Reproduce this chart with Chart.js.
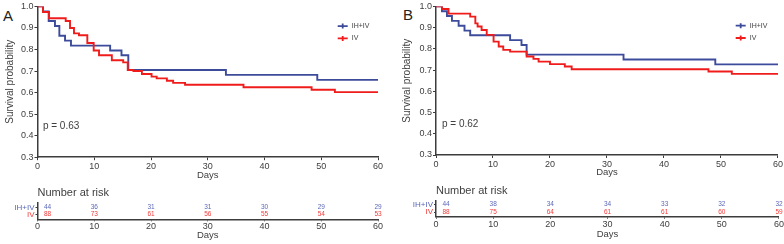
<!DOCTYPE html>
<html><head><meta charset="utf-8">
<script src="https://cdn.jsdelivr.net/npm/chart.js@4.4.1/dist/chart.umd.min.js"></script>
<style>
html,body{margin:0;padding:0;background:#fff;}
body{width:784px;height:244px;overflow:hidden;position:relative;font-family:'Liberation Sans',Arial,sans-serif;}
canvas{position:absolute;}
.lab{position:absolute;font-size:15px;color:#222;line-height:1;}
</style></head><body>
<div class="lab" style="left:3px;top:8px">A</div>
<div class="lab" style="left:403px;top:7px">B</div>
<canvas id="kmA" width="392" height="181" style="left:0;top:0"></canvas>
<canvas id="kmB" width="392" height="178" style="left:392px;top:0"></canvas>
<canvas id="rkA" width="392" height="61" style="left:0;top:183px"></canvas>
<canvas id="rkB" width="392" height="63" style="left:392px;top:181px"></canvas>
<script>
// ---- data ----
const seriesNames = ['IH+IV', 'IV'];
const xTicks = [0, 10, 20, 30, 40, 50, 60];
const yTicks = [0.3, 0.4, 0.5, 0.6, 0.7, 0.8, 0.9, 1.0];

const aIhivTime = [0, 0.97, 1.97, 3.08, 3.85, 4.85, 5.9, 12.8, 14.8, 16.0, 33.2, 49.3, 60];
const aIhivSurv = [1, 0.977, 0.932, 0.909, 0.864, 0.841, 0.818, 0.795, 0.773, 0.705, 0.682, 0.659, 0.659];
const aIvTime = [0, 0.97, 2.03, 4.97, 5.73, 6.43, 7.31, 8.78, 9.9, 10.84, 13.1, 15.1, 15.9, 16.9, 18.4, 20.1, 21.0, 22.8, 23.9, 26.0, 36.3, 48.3, 52.4, 60];
const aIvSurv = [1, 0.974, 0.945, 0.932, 0.90, 0.875, 0.866, 0.83, 0.795, 0.773, 0.75, 0.74, 0.705, 0.70, 0.686, 0.674, 0.666, 0.655, 0.645, 0.636, 0.625, 0.613, 0.602, 0.602];

const bIhivTime = [0, 1.05, 1.92, 2.8, 3.97, 5.0, 6.0, 13.0, 15.0, 15.9, 32.9, 49.0, 60];
const bIhivSurv = [1, 0.977, 0.955, 0.932, 0.909, 0.886, 0.864, 0.841, 0.818, 0.773, 0.75, 0.727, 0.727];
const bIvTime = [0, 1.05, 2.2, 6.0, 6.9, 7.3, 8.0, 8.9, 10.1, 11.0, 11.8, 13.0, 15.9, 17.1, 18.0, 20.0, 22.6, 23.8, 47.8, 51.9, 60];
const bIvSurv = [1, 0.988, 0.966, 0.952, 0.92, 0.905, 0.889, 0.866, 0.834, 0.811, 0.795, 0.787, 0.764, 0.753, 0.74, 0.728, 0.717, 0.704, 0.693, 0.682, 0.682];

const riskTimes = [0, 10, 20, 30, 40, 50, 60];
const aRiskIhiv = [44, 36, 31, 31, 30, 29, 29];
const aRiskIv = [88, 73, 61, 56, 55, 54, 53];
const bRiskIhiv = [44, 38, 34, 34, 33, 32, 32];
const bRiskIv = [88, 75, 64, 61, 61, 60, 59];

const pTextA = 'p = 0.63';
const pTextB = 'p = 0.62';

// ---- style ----
const BLUE = '#3d4b9b';
const RED = '#f01c1c';
const BLUE_L = '#5b68b8';
const RED_L = '#f43a3a';
const AX = '#3c3c3c';
const TXT = '#404040';
const FONT = "'Liberation Sans', Arial, sans-serif";

function pts(t, s) { return t.map((x, i) => ({ x: x, y: s[i] })); }

function kmChart(id, c) {
  const extras = {
    id: 'kmExtras' + id,
    afterDatasetsDraw(chart) {
      const ctx = chart.ctx, ca = chart.chartArea;
      ctx.save();
      chart.data.datasets.forEach((ds, i) => {
        const y = ca.top + c.legTop + i * 12.3;
        const x0 = ca.right - c.legRight;
        ctx.strokeStyle = ds.borderColor; ctx.lineWidth = 1.8;
        ctx.beginPath();
        ctx.moveTo(x0, y); ctx.lineTo(x0 + 10, y);
        ctx.moveTo(x0 + 5, y - 2.5); ctx.lineTo(x0 + 5, y + 2.5);
        ctx.stroke();
        ctx.fillStyle = TXT; ctx.font = '7px ' + FONT; ctx.textBaseline = 'middle'; ctx.textAlign = 'left';
        ctx.fillText(ds.label, x0 + 14, y);
      });
      const xs = chart.scales.x, ys = chart.scales.y;
      ctx.font = '10px ' + FONT; ctx.fillStyle = TXT; ctx.textBaseline = 'middle'; ctx.textAlign = 'left';
      ctx.fillText(c.pText, xs.getPixelForValue(c.pPos[0]), ys.getPixelForValue(c.pPos[1]));
      ctx.restore();
    }
  };
  return new Chart(document.getElementById(id), {
    type: 'line',
    data: {
      datasets: [
        { label: seriesNames[0], data: pts(c.t1, c.s1), borderColor: BLUE, borderWidth: 1.9, pointRadius: 0, stepped: 'before', fill: false, order: 1 },
        { label: seriesNames[1], data: pts(c.t2, c.s2), borderColor: RED, borderWidth: 1.9, pointRadius: 0, stepped: 'before', fill: false, order: 0 }
      ]
    },
    options: {
      responsive: false, animation: false, devicePixelRatio: 1,
      layout: { padding: { top: c.top, right: c.right, left: 0, bottom: 0 } },
      plugins: { legend: { display: false }, tooltip: { enabled: false }, title: { display: false } },
      scales: {
        x: {
          type: 'linear', min: 0, max: 60,
          afterBuildTicks: s => { s.ticks = xTicks.map(v => ({ value: v })); },
          afterFit: s => { s.height = c.xh; },
          ticks: { font: { size: 9, family: FONT }, color: TXT, padding: 1, maxRotation: 0 },
          grid: { display: true, drawOnChartArea: false, drawTicks: true, tickLength: 3, color: AX, lineWidth: 1 },
          border: { display: true, color: AX, width: 1.5 },
          title: { display: true, text: 'Days', font: { size: 9.5, family: FONT }, color: TXT, padding: { top: 0, bottom: 0 } }
        },
        y: {
          type: 'linear', min: 0.3, max: 1.0,
          afterBuildTicks: s => { s.ticks = yTicks.map(v => ({ value: v })); },
          afterFit: s => { s.width = c.yw; },
          ticks: { font: { size: 9, family: FONT }, color: TXT, padding: 1, callback: v => Number(v).toFixed(1) },
          grid: { display: true, drawOnChartArea: false, drawTicks: true, tickLength: 3, color: AX, lineWidth: 1 },
          border: { display: true, color: AX, width: 1.5 },
          title: { display: true, text: 'Survival probability', font: { size: 10, family: FONT }, color: TXT, padding: { top: c.ytPad, bottom: 0 } }
        }
      }
    },
    plugins: [extras]
  });
}

function riskChart(id, c) {
  const labels = {
    id: 'riskLabels' + id,
    afterDatasetsDraw(chart) {
      const ctx = chart.ctx;
      ctx.save();
      ctx.font = '6.5px ' + FONT; ctx.textBaseline = 'middle';
      chart.data.datasets.forEach((ds, di) => {
        const meta = chart.getDatasetMeta(di);
        ctx.fillStyle = ds.textColor;
        meta.data.forEach((el, i) => {
          const v = ds.data[i];
          if (v.x === 0) { ctx.textAlign = 'left'; ctx.fillText(String(v.n), el.x + 6.5, el.y); }
          else { ctx.textAlign = 'center'; ctx.fillText(String(v.n), el.x, el.y); }
        });
      });
      ctx.restore();
    }
  };
  return new Chart(document.getElementById(id), {
    type: 'scatter',
    data: {
      datasets: [
        { label: seriesNames[0], data: riskTimes.map((t, i) => ({ x: t, y: 2, n: c.r1[i] })), pointRadius: 0, textColor: BLUE_L },
        { label: seriesNames[1], data: riskTimes.map((t, i) => ({ x: t, y: 1, n: c.r2[i] })), pointRadius: 0, textColor: RED_L }
      ]
    },
    options: {
      responsive: false, animation: false, devicePixelRatio: 1,
      layout: { padding: { top: 0, right: c.right, left: 0, bottom: 0 } },
      plugins: {
        legend: { display: false }, tooltip: { enabled: false },
        title: { display: true, text: 'Number at risk', align: 'start', fullSize: false, color: TXT,
          font: { size: 11, family: FONT, weight: 'normal' }, padding: { top: c.tp, bottom: c.tb } }
      },
      scales: {
        x: {
          type: 'linear', min: 0, max: 60,
          afterBuildTicks: s => { s.ticks = xTicks.map(v => ({ value: v })); },
          afterFit: s => { s.height = c.xh; },
          ticks: { font: { size: 9, family: FONT }, color: TXT, padding: 0, maxRotation: 0 },
          grid: { display: true, drawOnChartArea: false, drawTicks: true, tickLength: 2, color: AX, lineWidth: 1 },
          border: { display: true, color: AX, width: 1.5 },
          title: { display: true, text: 'Days', font: { size: 9.5, family: FONT }, color: TXT, padding: { top: 0, bottom: c.dpb } }
        },
        y: {
          type: 'linear', min: c.ymin, max: 2.6,
          afterBuildTicks: s => { s.ticks = [{ value: 2 }, { value: 1 }]; },
          afterFit: s => { s.width = c.yw; },
          ticks: { font: { size: 8, family: FONT }, padding: 1,
            color: ctx => (ctx.tick && ctx.tick.value === 2) ? BLUE_L : RED_L,
            callback: v => (v === 2 ? seriesNames[0] : seriesNames[1]) },
          grid: { display: true, drawOnChartArea: false, drawTicks: true, tickLength: 2, color: AX, lineWidth: 1 },
          border: { display: true, color: AX, width: 1.5 }
        }
      }
    },
    plugins: [labels]
  });
}

kmChart('kmA', { t1: aIhivTime, s1: aIhivSurv, t2: aIvTime, s2: aIvSurv, pText: pTextA, pPos: [0.95, 0.444],
  top: 5.3, right: 14, xh: 23.8, yw: 37.5, ytPad: 4, legTop: 19.7, legRight: 40.3 });
kmChart('kmB', { t1: bIhivTime, s1: bIhivSurv, t2: bIvTime, s2: bIvSurv, pText: pTextB, pPos: [1.05, 0.444],
  top: 4.7, right: 5, xh: 23, yw: 44, ytPad: 9, legTop: 19.3, legRight: 42.3 });
riskChart('rkA', { r1: aRiskIhiv, r2: aRiskIv, right: 14, xh: 24.7, yw: 37.5, ymin: 0.29, tp: 3.7, tb: 3.2, dpb: 2.6 });
riskChart('rkB', { r1: bRiskIhiv, r2: bRiskIv, right: 5, xh: 27.3, yw: 44, ymin: 0.36, tp: 3.1, tb: 3.0, dpb: 4.3 });
</script>
</body></html>
